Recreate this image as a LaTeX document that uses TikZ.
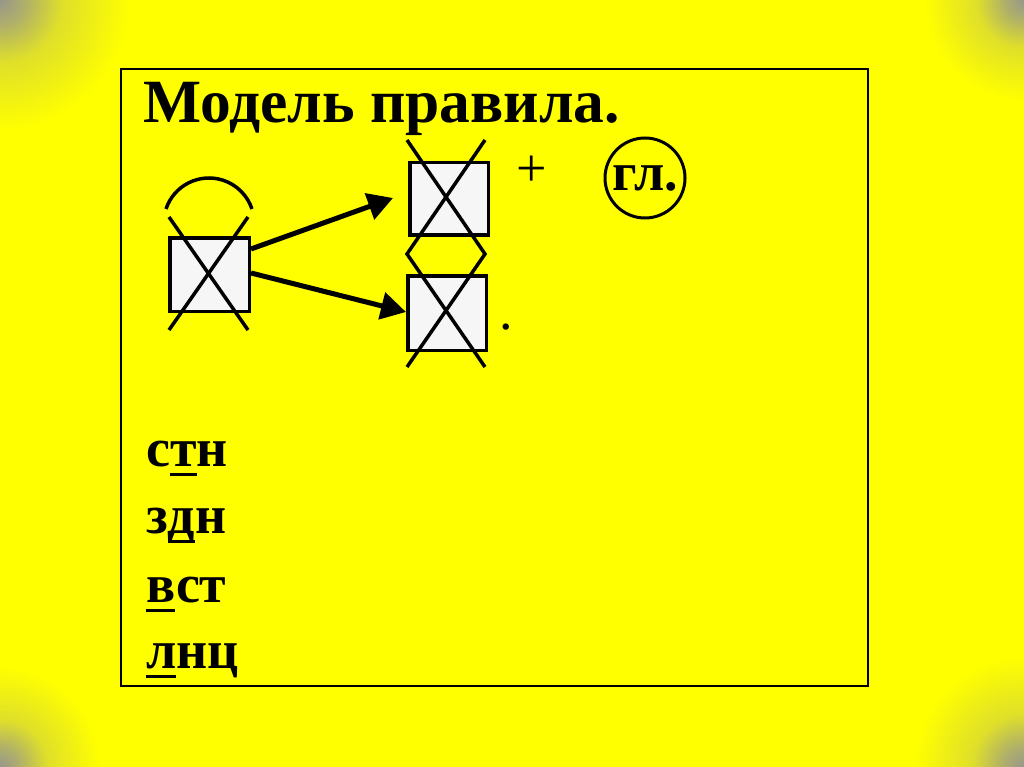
\documentclass[tikz,border=0pt]{standalone}
\usepackage{fontspec}
\setmainfont{Liberation Serif}
\usetikzlibrary{arrows.meta,calc}
\definecolor{bgyellow}{RGB}{255,255,0}
\definecolor{cgray}{RGB}{150,150,140}
\definecolor{boxfill}{RGB}{246,246,246}
\pgfdeclareradialshading{cornershade}{\pgfpoint{0bp}{0bp}}{%
  color(0bp)=(cgray); color(5bp)=(cgray!75!bgyellow); color(12bp)=(cgray!30!bgyellow); color(25bp)=(bgyellow); color(50bp)=(bgyellow)}
\newcommand\ulchar[1]{\setbox0\hbox{#1}\rlap{\rule[-10pt]{\wd0}{3pt}}#1}
\begin{document}
\begin{tikzpicture}[x=1pt,y=-1pt,
  xbox/.style={draw,line width=3.5pt,fill=boxfill,inner sep=0pt},
  xline/.style={line width=3.5pt},
  arr/.style={line width=5pt,-{Triangle[length=25pt,width=27pt]}},
  bigtxt/.style={inner sep=0pt,anchor=base west,font=\fontsize{54}{60}\selectfont\bfseries},
  cornerglow/.style={shading=cornershade},
  ]
\useasboundingbox (0,0) rectangle (1024,767);
\fill[bgyellow] (0,0) rectangle (1024,767);
\begin{scope}
\clip (0,0) rectangle (1024,767);
\shade[cornerglow] (0,0) circle[radius=130];
\shade[cornerglow] (1024,0) circle[radius=100];
\shade[cornerglow] (0,767) circle[radius=100];
\shade[cornerglow] (1024,767) circle[radius=110];
\end{scope}
\draw[line width=2.5pt] (121,69) rectangle (868,686);
\node[inner sep=0pt,anchor=base west,font=\fontsize{61.5}{70}\selectfont\bfseries] (title) at (143,123) {Модель правила.};
% boxes
\node[xbox,minimum width=79.5pt,minimum height=73.5pt] (L) at (209.5,274.5) {};
\node[xbox,minimum width=78.5pt,minimum height=72.5pt] (U) at (449,199) {};
\node[xbox,minimum width=78.5pt,minimum height=74.5pt] (D) at (447,313) {};
% crosses
\draw[xline] (169,217) -- (248,330);
\draw[xline] (248,217) -- (169,330);
\draw[xline] (166,209) arc[start angle=-161.6,end angle=-18.4,radius=45.3];
\draw[xline] (407,140) -- (485,254) -- (407,367);
\draw[xline] (485,140) -- (407,254) -- (485,367);
% arrows
\coordinate (a1s) at ($(L.north east)+(0,13)$);
\coordinate (a1e) at ($(U.west)+(-15,-1)$);
\coordinate (a2s) at ($(L.north east)+(0,37)$);
\coordinate (a2e) at ($(D.west)+(0,-1)$);
\draw[arr] (a1s) -- (a1e);
\draw[arr] (a2s) -- (a2e);
% plus and circled
\node[inner sep=0pt,font=\fontsize{54}{60}\selectfont] (plus) at (532,171) {+};
\node[circle,draw,line width=3pt,minimum size=80pt,inner sep=0pt,font=\fontsize{54}{60}\selectfont\bfseries] (gl) at (645,178) {гл.};
\node[inner sep=0pt,font=\fontsize{54}{60}\selectfont] (dot) at (506,327) {.};
% words
\node[bigtxt] (w1) at (146,466) {с\ulchar{т}н};
\node[bigtxt] (w2) at (146,533) {з\ulchar{д}н};
\node[bigtxt] (w3) at (146,602) {\ulchar{в}ст};
\node[bigtxt] (w4) at (146,668) {\ulchar{л}нц};
\end{tikzpicture}
\end{document}
